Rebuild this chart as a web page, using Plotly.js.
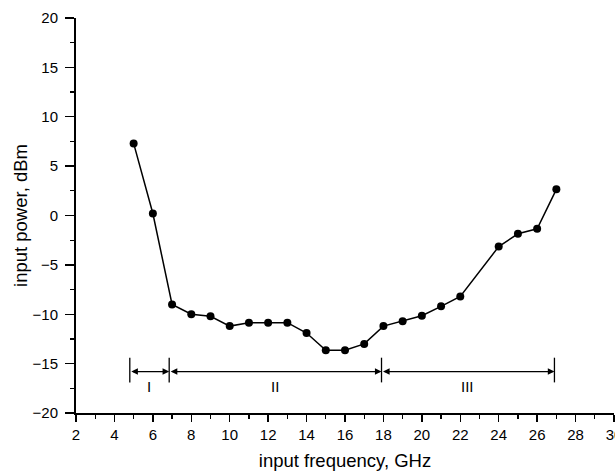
<!DOCTYPE html>
<html>
<head>
<meta charset="utf-8">
<script src="https://cdn.plot.ly/plotly-3.0.1.min.js"></script>
<style>html,body{margin:0;padding:0;background:#fff;}#chart{width:615px;height:473px;}</style>
</head>
<body>
<div id="chart"></div>
<script>
// Measured data
const freqGHz = [5, 6, 7, 8, 9, 10, 11, 12, 13, 14, 15, 16, 17, 18, 19, 20, 21, 22, 24, 25, 26, 27];
const powerDBm = [7.3, 0.2, -9.0, -10.0, -10.2, -11.2, -10.85, -10.85, -10.85, -11.9, -13.65, -13.65, -13.0, -11.2, -10.7, -10.15, -9.2, -8.2, -3.15, -1.85, -1.35, 2.65];

// Region markers
const regionBounds = [4.8, 6.85, 17.9, 26.9];
const regionLabels = ['I', 'II', 'III'];
const regionArrowY = -15.8;
const regionBarY = [-14.4, -16.9];
const regionLabelY = -17.3;

const xTicks = [2, 4, 6, 8, 10, 12, 14, 16, 18, 20, 22, 24, 26, 28, 30];
const yTicks = [-20, -15, -10, -5, 0, 5, 10, 15, 20];

const font = 'Liberation Sans, Arial, Helvetica, sans-serif';

const traces = [{
  x: freqGHz, y: powerDBm, type: 'scatter', mode: 'lines+markers',
  line: {color: '#000', width: 1.5},
  marker: {color: '#000', size: 8},
  hoverinfo: 'skip', showlegend: false, cliponaxis: false
}];

// vertical boundary bars
regionBounds.forEach(b => {
  traces.push({
    x: [b, b], y: regionBarY, type: 'scatter', mode: 'lines',
    line: {color: '#000', width: 1.3}, showlegend: false, hoverinfo: 'skip'
  });
});

const annotations = [];
for (let i = 0; i < regionLabels.length; i++) {
  const a = regionBounds[i], b = regionBounds[i + 1];
  annotations.push({
    x: b, y: regionArrowY, ax: a, ay: regionArrowY, axref: 'x', ayref: 'y', xref: 'x', yref: 'y',
    text: '', showarrow: true, arrowside: 'end+start', arrowhead: 2, arrowsize: 1.1,
    arrowwidth: 1.2, arrowcolor: '#000', standoff: 0, startstandoff: 0
  });
  annotations.push({
    x: (a + b) / 2, y: regionLabelY, xref: 'x', yref: 'y', text: regionLabels[i],
    showarrow: false, font: {family: font, size: 15, color: '#000'}
  });
}

const layout = {
  width: 615, height: 473,
  margin: {l: 76, r: 1, t: 18, b: 60},
  paper_bgcolor: '#fff', plot_bgcolor: '#fff',
  font: {family: font, size: 15, color: '#000'},
  showlegend: false,
  xaxis: {
    range: [2, 30], tickvals: xTicks, ticktext: xTicks.map(String),
    ticks: 'outside', ticklen: 7, tickwidth: 1.3, tickcolor: '#000',
    showline: true, linecolor: '#000', linewidth: 2, showgrid: false, zeroline: false,
    minor: {dtick: 1, tick0: 0, ticks: 'outside', ticklen: 4, tickwidth: 1.3, tickcolor: '#000', showgrid: false},
    tickfont: {family: font, size: 15, color: '#000'},
    ticklabeloverflow: 'allow',
    title: {text: 'input frequency, GHz', font: {family: font, size: 18.5, color: '#000'}, standoff: 12},
    automargin: false
  },
  yaxis: {
    range: [-20, 20], tickvals: yTicks, ticktext: yTicks.map(v => v < 0 ? '\u2212' + Math.abs(v) : String(v)),
    ticks: 'outside', ticklen: 9, tickwidth: 1.3, tickcolor: '#000',
    showline: true, linecolor: '#000', linewidth: 2, showgrid: false, zeroline: false,
    minor: {dtick: 2.5, tick0: 0, ticks: 'outside', ticklen: 4, tickwidth: 1.3, tickcolor: '#000', showgrid: false},
    tickfont: {family: font, size: 15, color: '#000'},
    ticklabelstandoff: 4,
    title: {text: 'input power, dBm', font: {family: font, size: 18.5, color: '#000'}, standoff: 0},
    automargin: false
  },
  annotations: annotations
};

Plotly.newPlot('chart', traces, layout, {displayModeBar: false, staticPlot: true});
</script>
</body>
</html>
